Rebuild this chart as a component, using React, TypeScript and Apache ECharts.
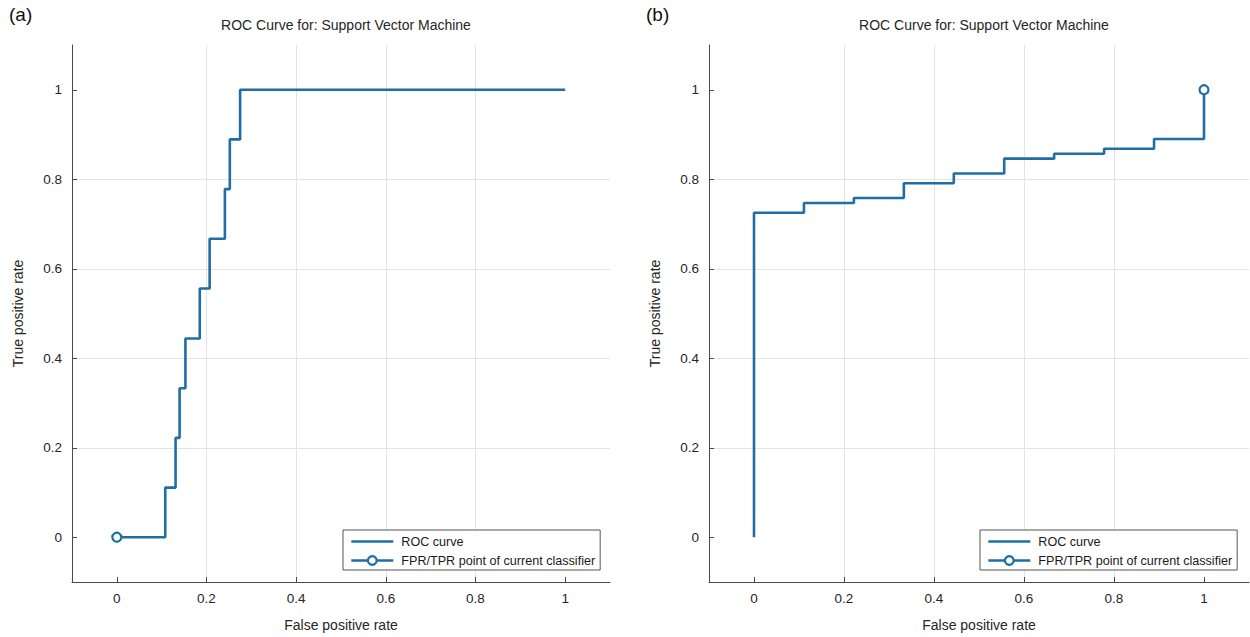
import React, { useEffect, useRef } from "react";
import * as echarts from "echarts";

const TITLE = "ROC Curve for: Support Vector Machine";
const PANEL_LABELS = ["(a)", "(b)"];
const TICKS = [0, 0.2, 0.4, 0.6, 0.8, 1];

const LEFT_FPR = [0, 0.108, 0.131, 0.14, 0.153, 0.185, 0.207, 0.241, 0.252, 0.275, 1];
const LEFT_TPR = [0, 0.111, 0.222, 0.333, 0.444, 0.556, 0.667, 0.778, 0.889, 1, 1];
const LEFT_POINT = [0, 0];

const RIGHT_FPR = [0, 0, 0.111, 0.222, 0.333, 0.444, 0.556, 0.667, 0.778, 0.889, 1];
const RIGHT_TPR = [0, 0.725, 0.747, 0.758, 0.791, 0.813, 0.846, 0.857, 0.868, 0.89, 1];
const RIGHT_POINT = [1, 1];

const SERIES_NAMES = ["ROC curve", "FPR/TPR point of current classifier"];

const BLUE = "#1f6ea5";
const FONT = "'Liberation Sans', Arial, Helvetica, sans-serif";
const TXT = "#262626";

function zip(xs: number[], ys: number[]) {
  return xs.map((x, i) => [x, ys[i]]);
}

const fmt = (v: number) => String(+v.toFixed(1));

function makeXAxis(gridIndex: number) {
  return {
    type: "value",
    gridIndex,
    min: -0.1,
    max: 1.1,
    name: "False positive rate",
    nameLocation: "middle",
    nameGap: 36,
    nameTextStyle: { fontFamily: FONT, fontSize: 14, color: TXT },
    axisLine: { show: true, onZero: false, lineStyle: { color: "#4a4a4a", width: 1 } },
    axisTick: {
      show: true,
      inside: true,
      length: 5,
      customValues: TICKS,
      lineStyle: { color: "#4a4a4a" },
    },
    axisLabel: {
      customValues: TICKS,
      margin: 9,
      fontFamily: FONT,
      fontSize: 13.5,
      color: TXT,
      formatter: fmt,
    },
    splitLine: {
      show: true,
      showMinLine: false,
      showMaxLine: false,
      lineStyle: { color: "#e3e3e3", width: 1 },
    },
  };
}

function makeYAxis(gridIndex: number) {
  return {
    type: "value",
    gridIndex,
    min: -0.1,
    max: 1.1,
    name: "True positive rate",
    nameLocation: "middle",
    nameGap: 47,
    nameTextStyle: { fontFamily: FONT, fontSize: 14, color: TXT },
    axisLine: { show: true, onZero: false, lineStyle: { color: "#4a4a4a", width: 1 } },
    axisTick: {
      show: true,
      inside: true,
      length: 5,
      customValues: TICKS,
      lineStyle: { color: "#4a4a4a" },
    },
    axisLabel: {
      customValues: TICKS,
      margin: 10,
      fontFamily: FONT,
      fontSize: 13.5,
      color: TXT,
      formatter: fmt,
    },
    splitLine: {
      show: true,
      showMinLine: false,
      showMaxLine: false,
      lineStyle: { color: "#e3e3e3", width: 1 },
    },
  };
}

function rocSeries(idx: number, xs: number[], ys: number[]) {
  return {
    name: SERIES_NAMES[0],
    type: "line",
    xAxisIndex: idx,
    yAxisIndex: idx,
    step: "end",
    symbol: "none",
    data: zip(xs, ys),
    lineStyle: { color: BLUE, width: 2.6 },
    itemStyle: { color: BLUE },
    z: 3,
  };
}

function pointSeries(idx: number, pt: number[]) {
  return {
    name: SERIES_NAMES[1],
    type: "line",
    xAxisIndex: idx,
    yAxisIndex: idx,
    symbol: "circle",
    symbolSize: 9,
    showSymbol: true,
    data: [pt],
    lineStyle: { color: BLUE, width: 2.6 },
    itemStyle: { color: "#ffffff", borderColor: BLUE, borderWidth: 2.2 },
    z: 4,
  };
}

function makeLegend(left: number) {
  return {
    orient: "vertical",
    left,
    top: 530,
    data: [
      {
        name: SERIES_NAMES[0],
        icon: "path://M0,0 L42,0 L42,2.6 L0,2.6 Z",
        itemStyle: { color: BLUE, borderWidth: 0 },
      },
      {
        name: SERIES_NAMES[1],
        lineStyle: { color: BLUE, width: 2.6 },
        itemStyle: { color: "#ffffff", borderColor: BLUE, borderWidth: 2.2 },
      },
    ],
    padding: [5, 5, 3, 7],
    itemGap: 6,
    itemWidth: 42,
    itemHeight: 11,
    backgroundColor: "#ffffff",
    borderColor: "#555555",
    borderWidth: 1,
    borderRadius: 0,
    selectedMode: false,
    textStyle: { fontFamily: FONT, fontSize: 12.6, color: "#1a1a1a", padding: [0, 0, 0, 3] },
  };
}

export default function App() {
  const ref = useRef<HTMLDivElement>(null);

  useEffect(() => {
    document.body.style.margin = "0";
    if (!ref.current) return;
    const chart = echarts.init(ref.current, null, { renderer: "svg" });
    chart.setOption({
      animation: false,
      backgroundColor: "#ffffff",
      title: [
        {
          text: TITLE,
          left: 341,
          top: 13,
          textAlign: "center",
          textStyle: { fontFamily: FONT, fontSize: 14, fontWeight: "normal", color: TXT },
        },
        {
          text: TITLE,
          left: 979,
          top: 13,
          textAlign: "center",
          textStyle: { fontFamily: FONT, fontSize: 14, fontWeight: "normal", color: TXT },
        },
      ],
      graphic: [
        {
          type: "text",
          left: 9,
          top: 5,
          style: { text: PANEL_LABELS[0], fontFamily: FONT, fontSize: 19, fill: "#111" },
        },
        {
          type: "text",
          left: 646,
          top: 5,
          style: { text: PANEL_LABELS[1], fontFamily: FONT, fontSize: 19, fill: "#111" },
        },
      ],
      legend: [makeLegend(343), makeLegend(980)],
      grid: [
        { left: 72, right: 640, top: 45, bottom: 53, containLabel: false },
        { left: 709, right: 1, top: 45, bottom: 53, containLabel: false },
      ],
      xAxis: [makeXAxis(0), makeXAxis(1)],
      yAxis: [makeYAxis(0), makeYAxis(1)],
      series: [
        rocSeries(0, LEFT_FPR, LEFT_TPR),
        pointSeries(0, LEFT_POINT),
        rocSeries(1, RIGHT_FPR, RIGHT_TPR),
        pointSeries(1, RIGHT_POINT),
      ],
    });
    return () => chart.dispose();
  }, []);

  return (
    <div
      ref={ref}
      style={{ position: "absolute", left: 0, top: 0, width: 1250, height: 637 }}
    />
  );
}
